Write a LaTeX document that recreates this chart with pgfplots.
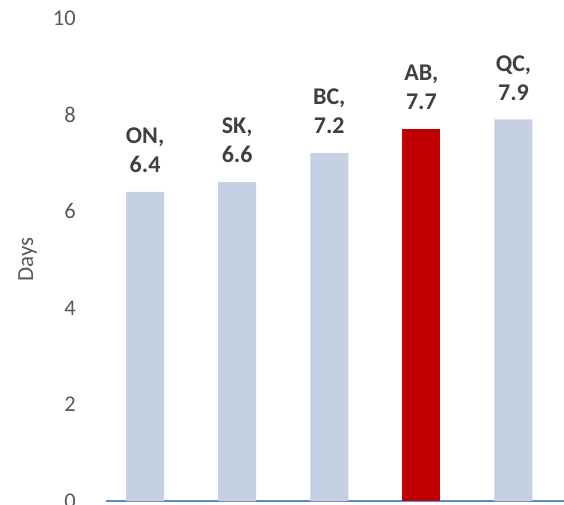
\documentclass[border=0pt]{standalone}
\usepackage{pgfplots}
\pgfplotsset{compat=1.18}
\usepackage{fontspec}
\setmainfont{Carlito}

\definecolor{barblue}{RGB}{197,208,226}
\definecolor{barred}{RGB}{192,0,0}
\definecolor{axisblue}{RGB}{91,137,201}
\definecolor{ticktext}{RGB}{89,89,89}
\definecolor{labeltext}{RGB}{64,64,64}

\begin{document}
\begin{tikzpicture}[x=1pt,y=1pt]
\begin{axis}[
  at={(105.5pt,4pt)}, anchor=south west,
  scale only axis,
  width=460pt, height=483pt,
  xmin=-0.43, xmax=4.565,
  ymin=0, ymax=10,
  axis x line*=bottom,
  axis y line*=left,
  x axis line style={draw=axisblue, line width=1.5pt},
  y axis line style={draw=none},
  xtick=\empty,
  ytick={0,2,4,6,8,10},
  major tick length=0pt,
  yticklabel style={anchor=east, inner sep=0pt, xshift=-29.5pt,
    font=\fontsize{22.5}{26}\selectfont, text=ticktext},
  /pgf/number format/assume math mode=true,
  ylabel={Days},
  ylabel style={at={(rel axis cs:0,0.5)}, anchor=center, yshift=78pt,
    font=\fontsize{23}{26}\selectfont, text=ticktext},
  ybar, bar width=38pt, bar shift=0pt,
  clip=false,
  nodes near coords,
  point meta=explicit symbolic,
  every node near coord/.append style={
    align=center, anchor=south, inner sep=0pt, yshift=19pt,
    font=\fontsize{24}{29}\selectfont\bfseries, text=labeltext},
]
\addplot[fill=barblue, draw=none] coordinates {
  (0,6.4) [ON,\\6.4]
  (1,6.6) [SK,\\6.6]
  (2,7.2) [BC,\\7.2]
  (4,7.9) [QC,\\7.9]
};
\addplot[fill=barred, draw=none] coordinates {
  (3,7.7) [AB,\\7.7]
};
\end{axis}
\pgfresetboundingbox
\path[use as bounding box] (0,0) rectangle (564pt,505pt);
\end{tikzpicture}
\end{document}
